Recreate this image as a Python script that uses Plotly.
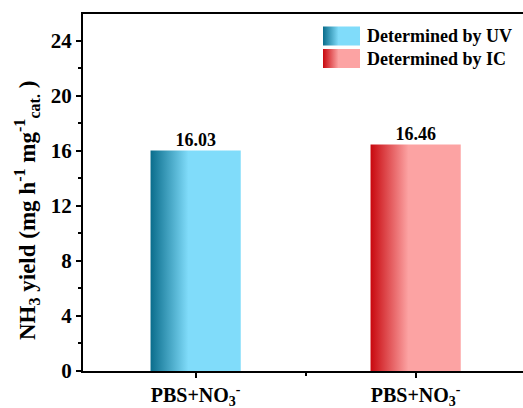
import plotly.graph_objects as go

categories = ["PBS+NO<sub>3</sub><sup>-</sup>", "PBS+NO<sub>3</sub><sup>-</sup>"]
values = [16.03, 16.46]
labels = ["16.03", "16.46"]
series_names = ["Determined by UV", "Determined by IC"]
dark_colors = ["#0a6d8c", "#c8080e"]
light_colors = ["#80dcfa", "#fca3a3"]
y_ticks = [0, 4, 8, 12, 16, 20, 24]
y_title = "NH<sub>3</sub> yield (mg h<sup>-1</sup> mg<sup>-1</sup><sub>cat.</sub> )"

BAR_W = 0.41
FONT = "Liberation Serif, Times New Roman, serif"
# plot-area pixel frame (used only for the hand-made legend overlay)
PX_L, PX_R, PX_T, PX_B = 83, 523, 14, 371


def grad(i):
    return dict(type="horizontal",
                colorscale=[[0, dark_colors[i]], [0.42, light_colors[i]], [1, light_colors[i]]])


fig = go.Figure()
for i, (v, name) in enumerate(zip(values, series_names)):
    x0, x1 = i - BAR_W / 2, i + BAR_W / 2
    fig.add_trace(go.Scatter(
        x=[x0, x1, x1, x0, x0], y=[0, 0, v, v, 0],
        mode="lines", line=dict(width=0), fill="toself", fillgradient=grad(i),
        name=name, hoverinfo="skip", showlegend=False,
    ))

fig.add_trace(go.Scatter(
    x=list(range(len(values))), y=values, mode="text", text=labels,
    textposition="top center", textfont=dict(family=FONT, size=18, color="black", weight="bold"),
    showlegend=False,
))

# legend (swatches + labels) on an invisible pixel-scaled overlay axis
annotations = []
for i, name in enumerate(series_names):
    yc = 36 + 22.5 * i
    sx0, sx1, sy0, sy1 = 323, 360, yc - 9.5, yc + 9.5
    fig.add_trace(go.Scatter(
        x=[sx0, sx1, sx1, sx0, sx0], y=[sy0, sy0, sy1, sy1, sy0],
        xaxis="x2", yaxis="y2", mode="lines", line=dict(width=0),
        fill="toself", fillgradient=grad(i), showlegend=False, hoverinfo="skip",
    ))
    annotations.append(dict(text=name, xref="x2", yref="y2", x=365, y=yc, xanchor="left",
                            yanchor="middle", showarrow=False,
                            font=dict(size=18, family=FONT, weight="bold", color="black")))

annotations.append(dict(text=y_title, xref="paper", yref="paper", x=-0.128, y=0.45,
                        xanchor="center", yanchor="middle", textangle=-90, showarrow=False,
                        font=dict(size=23, family=FONT, weight="bold", color="black")))

fig.update_layout(
    width=523, height=408,
    margin=dict(l=PX_L, r=523 - PX_R, t=PX_T, b=408 - PX_B),
    plot_bgcolor="white", paper_bgcolor="white",
    font=dict(family=FONT, color="black", size=18, weight="bold"),
    showlegend=False,
    annotations=annotations,
    xaxis2=dict(overlaying="x", range=[PX_L, PX_R], visible=False, fixedrange=True),
    yaxis2=dict(overlaying="y", range=[PX_B, PX_T], visible=False, fixedrange=True),
)
fig.layout.xaxis.update(
    range=[-0.512, 1.488], tickmode="array", tickvals=[0, 1], ticktext=categories,
    showline=True, linewidth=2, linecolor="black", mirror=True,
    ticks="outside", ticklen=5, tickwidth=2, tickcolor="black",
    minor=dict(tickmode="array", tickvals=[0.5], ticks="outside", ticklen=3, tickwidth=2, tickcolor="black"),
    showgrid=False, zeroline=False, tickfont=dict(size=20, family=FONT, weight="bold"),
)
fig.layout.yaxis.update(
    range=[0, 25.95], tickmode="array", tickvals=y_ticks,
    showline=True, linewidth=2, linecolor="black",
    ticks="outside", ticklen=5, tickwidth=2, tickcolor="black",
    minor=dict(dtick=2, tick0=0, ticks="outside", ticklen=3, tickwidth=2, tickcolor="black"),
    showgrid=False, zeroline=False, tickfont=dict(size=21, family=FONT, weight="bold"),
)

fig.write_html("out.html")
